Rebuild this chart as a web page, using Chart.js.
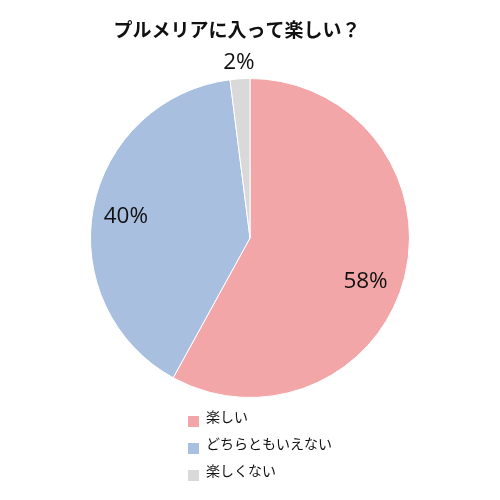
<!DOCTYPE html>
<html>
<head>
<meta charset="utf-8">
<script src="https://cdn.jsdelivr.net/npm/chart.js@4"></script>
<style>
  html, body { margin: 0; padding: 0; background: #fff; }
  #wrap { width: 500px; height: 500px; }
</style>
</head>
<body>
<div id="wrap"><canvas id="pie" width="500" height="500"></canvas></div>
<script>
const chartTitle = "プルメリアに入って楽しい？";
const categories = ["楽しい", "どちらともいえない", "楽しくない"];
const values = [58, 40, 2];
const colors = ["#f2a6a8", "#a9bfe0", "#d9d9d9"];

// label placement tweaks (radius factor, angle shift in degrees)
const labelRadius = [0.775, 0.79, 1.1];
const labelShift = [6.4, -1, 0];

const jpFont = '"Noto Sans CJK JP", "Noto Sans", sans-serif';

// title is a bit left of centre in the original, so draw it by hand
const titlePlugin = {
  id: "titlePlugin",
  afterDraw(chart) {
    const ctx = chart.ctx;
    ctx.save();
    ctx.font = "bold 19px " + jpFont;
    ctx.fillStyle = "#111";
    ctx.textAlign = "center";
    ctx.textBaseline = "middle";
    ctx.fillText(chartTitle, 237, 30);
    ctx.restore();
  }
};

// percent labels drawn at each arc's middle angle
const sliceLabels = {
  id: "sliceLabels",
  afterDatasetsDraw(chart) {
    const ctx = chart.ctx;
    const meta = chart.getDatasetMeta(0);
    ctx.save();
    ctx.font = '22.5px "Open Sans", "DejaVu Sans", sans-serif';
    ctx.fillStyle = "#111";
    ctx.textAlign = "center";
    ctx.textBaseline = "middle";
    meta.data.forEach((arc, i) => {
      const p = arc.getProps(["x", "y", "startAngle", "endAngle", "outerRadius"], true);
      const mid = (p.startAngle + p.endAngle) / 2 + labelShift[i] * Math.PI / 180;
      const r = p.outerRadius * labelRadius[i];
      ctx.fillText(values[i] + "%", p.x + Math.cos(mid) * r, p.y + Math.sin(mid) * r);
    });
    ctx.restore();
  }
};

// vertical legend under the pie
const vLegend = {
  id: "vLegend",
  afterDraw(chart) {
    const ctx = chart.ctx;
    ctx.save();
    ctx.font = "14px " + jpFont;
    ctx.textBaseline = "middle";
    ctx.textAlign = "left";
    categories.forEach((c, i) => {
      const y = 417 + i * 27;
      ctx.fillStyle = colors[i];
      ctx.fillRect(188, y - 1, 11, 11);
      ctx.fillStyle = "#111";
      ctx.fillText(c, 206, y);
    });
    ctx.restore();
  }
};

new Chart(document.getElementById("pie"), {
  type: "pie",
  data: {
    labels: categories,
    datasets: [{
      data: values,
      backgroundColor: colors,
      borderColor: "#fff",
      borderWidth: 1
    }]
  },
  options: {
    responsive: false,
    animation: false,
    layout: { padding: { top: 78, bottom: 102 } },
    plugins: {
      legend: { display: false },
      tooltip: { enabled: false },
      title: { display: false }
    }
  },
  plugins: [sliceLabels, vLegend, titlePlugin]
});
</script>
</body>
</html>
